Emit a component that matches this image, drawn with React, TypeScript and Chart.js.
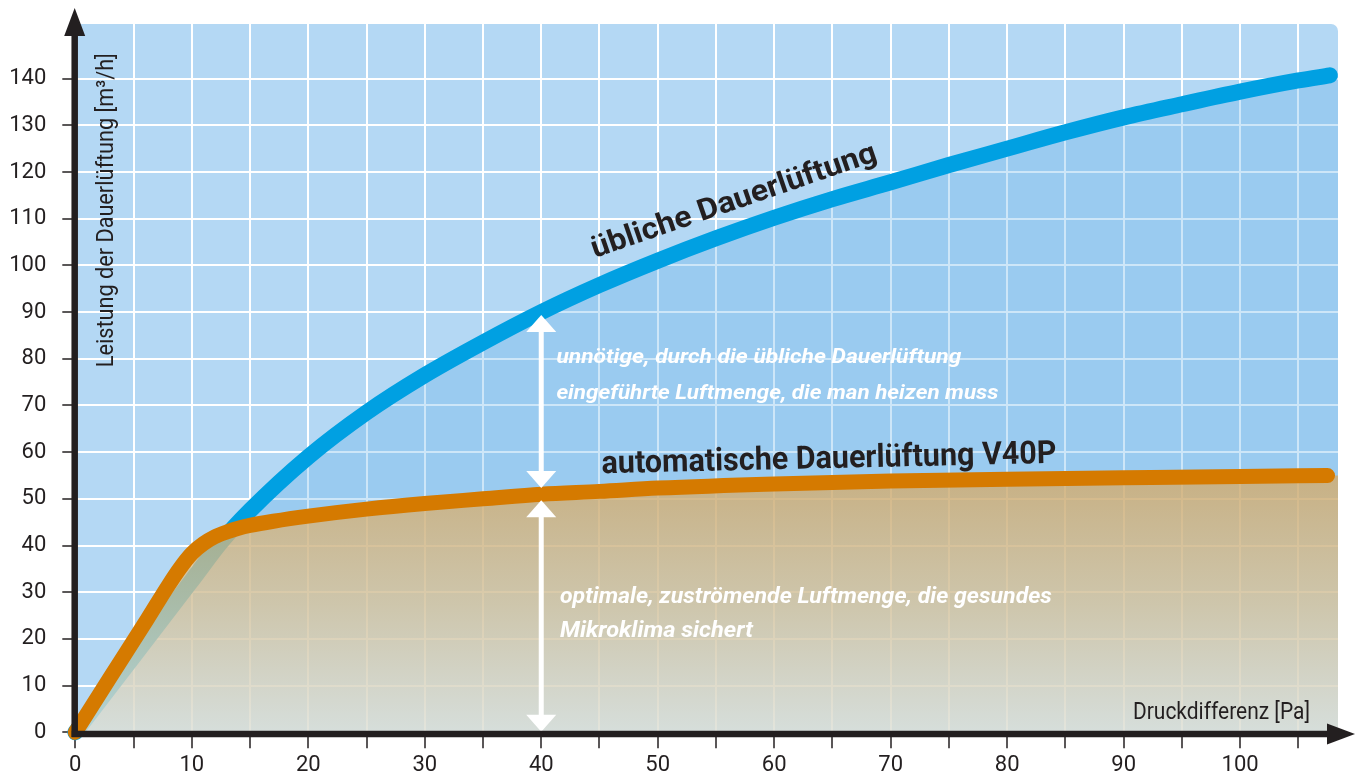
import { useEffect, useRef } from 'react';
import { Chart, registerables } from 'chart.js';

Chart.register(...registerables);

const FONT = 'Roboto, "Open Sans", "DejaVu Sans", sans-serif';
const INK = '#231f20';

// Axis ranges / ticks
const X_MAX = 108.4;
const Y_MAX = 151.7;
const X_TICKS = [0, 5, 10, 15, 20, 25, 30, 35, 40, 45, 50, 55, 60, 65, 70, 75, 80, 85, 90, 95, 100, 105];
const Y_TICKS = [0, 10, 20, 30, 40, 50, 60, 70, 80, 90, 100, 110, 120, 130, 140];

// "übliche Dauerlüftung" (blue)
const blueX = [0, 5, 10, 12.6, 15, 20, 25, 30, 35, 40, 45, 50, 55, 60, 65, 70, 75, 80, 85, 90, 95, 100, 105, 107.7];
const blueY = [0, 16.2, 32.5, 41, 47.5, 59, 68.5, 76.5, 83.5, 90, 95.8, 101, 105.8, 110.2, 114.2, 117.8, 121.5, 125, 128.5, 131.7, 134.5, 137.2, 139.6, 140.7];

// "automatische Dauerlüftung V40P" (orange)
const orangeX = [0, 3, 6, 8, 9, 10, 11, 12, 13, 14, 15, 17, 20, 25, 30, 35, 40, 45, 50, 60, 70, 80, 90, 100, 107.5];
const orangeY = [0, 11.8, 23.5, 31.5, 35.2, 38.3, 40.4, 41.9, 42.9, 43.7, 44.3, 45.2, 46.3, 47.8, 49, 50, 51, 51.6, 52.3, 53.2, 53.8, 54.2, 54.5, 54.8, 55];

// White double arrows at 40 Pa
const ARROW_X = 40;
const ARROW_UPPER = [89.4, 52.3];
const ARROW_LOWER = [49.7, 0.1];

const pts = (xs: number[], ys: number[]) => xs.map((x, i) => ({ x, y: ys[i] }));
const extended = (xs: number[], ys: number[]) => [...pts(xs, ys), { x: X_MAX, y: ys[ys.length - 1] }];

function fitText(ctx: CanvasRenderingContext2D, text: string, x: number, y: number, font: string, width: number, angleDeg: number, color: string) {
  ctx.save();
  ctx.font = font;
  ctx.fillStyle = color;
  ctx.textAlign = 'left';
  ctx.textBaseline = 'alphabetic';
  ctx.translate(x, y);
  ctx.rotate((angleDeg * Math.PI) / 180);
  const w = ctx.measureText(text).width;
  ctx.scale(width / w, 1);
  ctx.fillText(text, 0, 0);
  ctx.restore();
}

function doubleArrow(ctx: CanvasRenderingContext2D, x: number, yTop: number, yBot: number) {
  const hw = 15, hh = 17;
  ctx.save();
  ctx.strokeStyle = '#ffffff';
  ctx.fillStyle = '#ffffff';
  ctx.lineWidth = 5;
  ctx.beginPath();
  ctx.moveTo(x, yTop + hh - 1);
  ctx.lineTo(x, yBot - hh + 1);
  ctx.stroke();
  ctx.beginPath();
  ctx.moveTo(x, yTop);
  ctx.lineTo(x + hw, yTop + hh);
  ctx.lineTo(x - hw, yTop + hh);
  ctx.closePath();
  ctx.fill();
  ctx.beginPath();
  ctx.moveTo(x, yBot);
  ctx.lineTo(x + hw, yBot - hh);
  ctx.lineTo(x - hw, yBot - hh);
  ctx.closePath();
  ctx.fill();
  ctx.restore();
}

const backgroundPlugin = {
  id: 'plotBg',
  beforeDraw(chart: any) {
    const { ctx, chartArea: a } = chart;
    ctx.save();
    ctx.fillStyle = '#b4d8f4';
    ctx.beginPath();
    ctx.roundRect(a.left - 1, a.top, a.right - a.left + 1, a.bottom - a.top, [0, 7, 0, 0]);
    ctx.fill();
    ctx.restore();
  },
};

const overlayPlugin = {
  id: 'overlay',
  afterDraw(chart: any) {
    const { ctx, chartArea: a } = chart;
    const xs = chart.scales.x;
    const ys = chart.scales.y;
    const px = (v: number) => xs.getPixelForValue(v);
    const py = (v: number) => ys.getPixelForValue(v);

    // double arrows
    doubleArrow(ctx, px(ARROW_X), py(ARROW_UPPER[0]), py(ARROW_UPPER[1]));
    doubleArrow(ctx, px(ARROW_X), py(ARROW_LOWER[0]), py(ARROW_LOWER[1]));

    // texts
    const bold = (s: number) => `bold ${s}px ${FONT}`;
    const it = (s: number) => `italic bold ${s}px ${FONT}`;
    fitText(ctx, 'übliche Dauerlüftung', px(44.6), py(101.6), bold(30), 300, -19, INK);
    fitText(ctx, 'automatische Dauerlüftung V40P', px(45.2), py(55.5), bold(32), 455, -1.3, INK);
    fitText(ctx, 'unnötige, durch die übliche Dauerlüftung', px(41.3), py(79.1), it(21), 405, 0, '#ffffff');
    fitText(ctx, 'eingeführte Luftmenge, die man heizen muss', px(41.3), py(71.4), it(21), 442, 0, '#ffffff');
    fitText(ctx, 'optimale, zuströmende Luftmenge, die gesundes', px(41.6), py(27.7), it(22), 492, 0, '#ffffff');
    fitText(ctx, 'Mikroklima sichert', px(41.6), py(20.4), it(22), 193, 0, '#ffffff');
    fitText(ctx, 'Druckdifferenz [Pa]', px(90.8), py(2.9), `${24}px ${FONT}`, 177, 0, INK);
    fitText(ctx, 'Leistung der Dauerlüftung [m³/h]', px(3.2), py(78.2), `${24}px ${FONT}`, 314, -90, INK);

    // axis lines with arrowheads
    const ax = a.left - 0.6;
    const ay = a.bottom + 1.7;
    ctx.save();
    ctx.strokeStyle = INK;
    ctx.fillStyle = INK;
    ctx.lineWidth = 6.5;
    ctx.beginPath();
    ctx.moveTo(ax, ay + 3);
    ctx.lineTo(ax, 30);
    ctx.stroke();
    ctx.beginPath();
    ctx.moveTo(ax, 8);
    ctx.lineTo(ax + 10.5, 36);
    ctx.lineTo(ax - 10.5, 36);
    ctx.closePath();
    ctx.fill();
    ctx.beginPath();
    ctx.moveTo(ax - 3, ay);
    ctx.lineTo(1330, ay);
    ctx.stroke();
    ctx.beginPath();
    ctx.moveTo(1355, ay);
    ctx.lineTo(1327, ay - 10.5);
    ctx.lineTo(1327, ay + 10.5);
    ctx.closePath();
    ctx.fill();
    ctx.restore();
  },
};

export default function App() {
  const ref = useRef<HTMLCanvasElement>(null);

  useEffect(() => {
    document.body.style.margin = '0';
    const canvas = ref.current!;

    const orangeFill = (c: any) => {
      const chart = c.chart;
      const a = chart.chartArea;
      if (!a) return 'rgba(214,170,100,0.75)';
      const top = chart.scales.y.getPixelForValue(55);
      const g = chart.ctx.createLinearGradient(0, top, 0, a.bottom);
      g.addColorStop(0, 'rgba(214,168,98,0.76)');
      g.addColorStop(0.5, 'rgba(222,196,150,0.76)');
      g.addColorStop(1, 'rgba(233,228,212,0.76)');
      return g;
    };

    const chart = new Chart(canvas, {
      type: 'line',
      data: {
        datasets: [
          {
            label: 'blueFill',
            data: extended(blueX, blueY),
            borderWidth: 0,
            pointRadius: 0,
            fill: 'origin',
            backgroundColor: 'rgba(98,178,234,0.32)',
            cubicInterpolationMode: 'monotone',
            order: 4,
          },
          {
            label: 'übliche Dauerlüftung',
            data: pts(blueX, blueY),
            borderColor: '#00a0e2',
            borderWidth: 16,
            borderCapStyle: 'round',
            borderJoinStyle: 'round',
            pointRadius: 0,
            fill: false,
            cubicInterpolationMode: 'monotone',
            clip: false,
            order: 3,
          },
          {
            label: 'orangeFill',
            data: extended(orangeX, orangeY),
            borderWidth: 0,
            pointRadius: 0,
            fill: 'origin',
            backgroundColor: orangeFill,
            cubicInterpolationMode: 'monotone',
            order: 2,
          },
          {
            label: 'automatische Dauerlüftung V40P',
            data: pts(orangeX, orangeY),
            borderColor: '#d57a00',
            borderWidth: 15,
            borderCapStyle: 'round',
            borderJoinStyle: 'round',
            pointRadius: 0,
            fill: false,
            cubicInterpolationMode: 'monotone',
            clip: false,
            order: 1,
          },
        ] as any,
      },
      options: {
        responsive: false,
        animation: false,
        devicePixelRatio: 1,
        layout: { padding: { top: 24, right: 23, left: 0, bottom: 0 } },
        plugins: { legend: { display: false }, tooltip: { enabled: false } },
        scales: {
          x: {
            type: 'linear',
            min: 0,
            max: X_MAX,
            afterBuildTicks: (s: any) => {
              s.ticks = X_TICKS.map((v) => ({ value: v }));
            },
            afterFit: (s: any) => {
              s.height = 43.7;
              s.paddingLeft = 0;
              s.paddingRight = 0;
            },
            border: { display: false },
            grid: { color: '#ffffff', lineWidth: 2, tickColor: INK, tickLength: 16, tickWidth: 1.5 },
            ticks: {
              color: INK,
              font: { family: FONT, size: 22 },
              padding: 4,
              maxRotation: 0,
              autoSkip: false,
              callback: (v: any) => (Number(v) % 10 === 0 ? String(v) : ''),
            },
          },
          y: {
            type: 'linear',
            min: 0,
            max: Y_MAX,
            afterBuildTicks: (s: any) => {
              s.ticks = Y_TICKS.map((v) => ({ value: v }));
            },
            afterFit: (s: any) => {
              s.width = 75.3;
              s.paddingTop = 0;
              s.paddingBottom = 0;
            },
            border: { display: false },
            grid: { color: '#ffffff', lineWidth: 2, tickColor: INK, tickLength: 13, tickWidth: 1.5 },
            ticks: {
              color: INK,
              font: { family: FONT, size: 22 },
              padding: 16,
              autoSkip: false,
              callback: (v: any) => String(v),
            },
          },
        },
      },
      plugins: [backgroundPlugin, overlayPlugin],
    });

    return () => chart.destroy();
  }, []);

  return (
    <div style={{ width: 1361, height: 776, overflow: 'hidden', background: '#ffffff' }}>
      <canvas ref={ref} width={1361} height={776} style={{ display: 'block' }} />
    </div>
  );
}
